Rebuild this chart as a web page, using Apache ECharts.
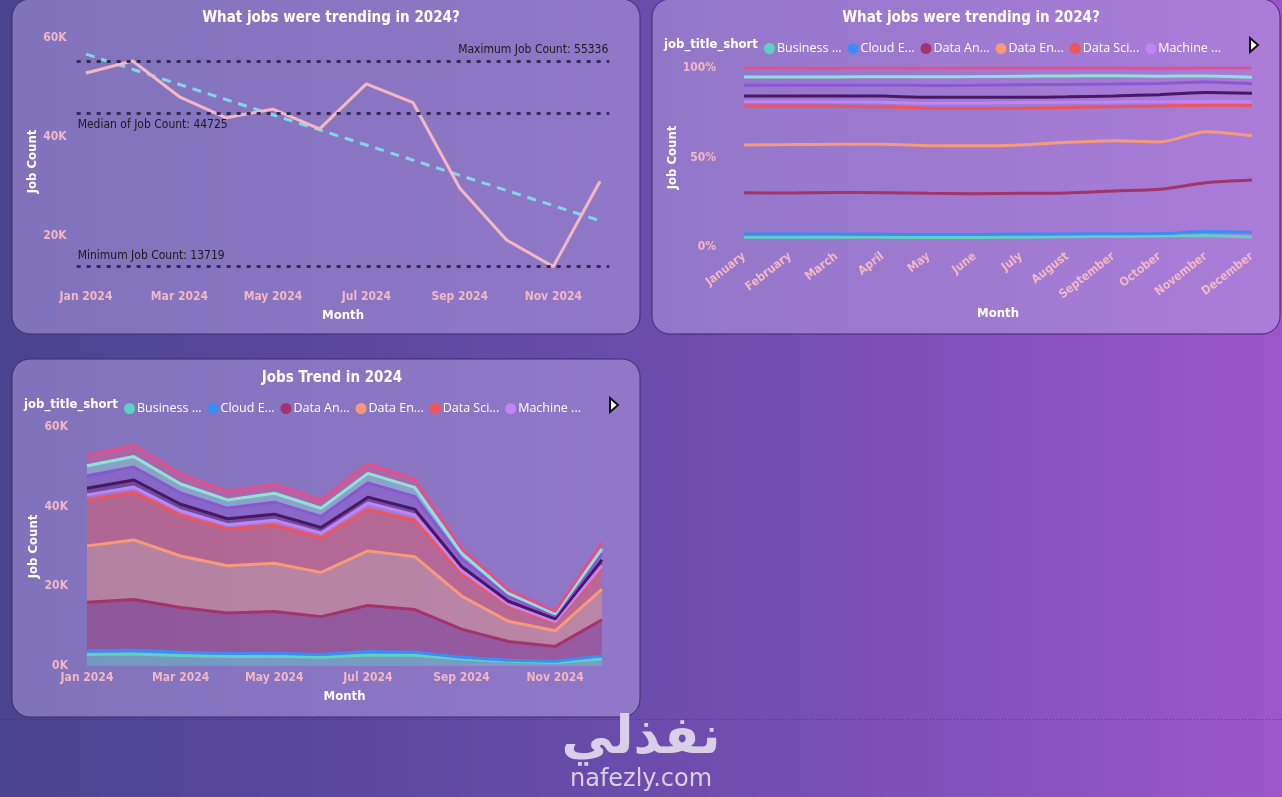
<!DOCTYPE html>
<html lang="en">
<head>
<meta charset="utf-8">
<script type="text/javascript" src="https://cdn.jsdelivr.net/npm/echarts@6/dist/echarts.min.js"></script>
</head>
<body style="margin:0; height:100%; overflow:hidden">
<div id="container" style="width:1282px; height:797px"></div>
<script type="text/javascript">
// months shown on the x axes
var months = ['January', 'February', 'March', 'April', 'May', 'June', 'July',
    'August', 'September', 'October', 'November', 'December'];

// job titles (stack order, bottom first) and the short legend labels
var jobTitles = ['Business Analyst', 'Cloud Engineer', 'Data Analyst', 'Data Engineer',
    'Data Scientist', 'Machine Learning Engineer', 'Senior Data Analyst',
    'Senior Data Engineer', 'Senior Data Scientist', 'Software Engineer'];
var legendShort = ['Business ...', 'Cloud E...', 'Data An...', 'Data En...', 'Data Sci...', 'Machine ...'];
var jobColors = ['#5fd0c3', '#3d8cf5', '#a3336b', '#f8997a', '#ee5559',
    '#c184f5', '#4a1766', '#8a57d0', '#8fe2d7', '#e0508a'];

// job counts per month, one array per job title
var businessAnalyst = [2860, 2988, 2646, 2368, 2417, 2205, 2789, 2673, 1746, 1165, 864, 1736];
var cloudEngineer = [950, 996, 818, 745, 775, 707, 862, 750, 444, 267, 316, 806];
var dataAnalyst = [12220, 12727, 11207, 10173, 10488, 9485, 11560, 10740, 7074, 4718, 3745, 9052];
var dataEngineer = [14124, 14941, 12939, 11883, 12130, 11107, 13689, 13273, 8318, 5062, 3910, 7688];
var dataScientist = [11532, 11953, 10197, 9209, 9530, 8694, 10394, 9099, 5624, 3839, 2030, 5208];
var mlEngineer = [1270, 1328, 1154, 1096, 1277, 1206, 1622, 1360, 770, 458, 274, 682];
var seniorAnalyst = [1693, 1771, 1635, 1491, 1505, 1373, 1470, 1454, 1006, 745, 700, 1457];
var seniorEngineer = [3121, 3265, 2838, 2675, 3010, 2787, 3600, 3236, 1954, 1203, 809, 1643];
var seniorScientist = [2486, 2601, 2261, 2061, 2234, 2038, 2383, 2251, 1391, 764, 466, 1116];
var softwareEngineer = [2644, 2766, 2405, 2149, 2234, 1998, 2331, 2064, 1273, 879, 605, 1612];

var jobCounts = [businessAnalyst, cloudEngineer, dataAnalyst, dataEngineer, dataScientist,
    mlEngineer, seniorAnalyst, seniorEngineer, seniorScientist, softwareEngineer];

// total per month (what the first chart plots)
var totals = months.map(function (m, i) {
    var s = 0;
    jobCounts.forEach(function (arr) { s += arr[i]; });
    return s;
});

// least squares trend line over the totals
var n = totals.length, sx = 0, sy = 0, sxy = 0, sxx = 0;
totals.forEach(function (v, i) { sx += i; sy += v; sxy += i * v; sxx += i * i; });
var slope = (n * sxy - sx * sy) / (n * sxx - sx * sx);
var icept = (sy - slope * sx) / n;

var condensed = '"DejaVu Sans Condensed", "Liberation Sans Narrow", sans-serif';
var pink = '#f4b7c4';

var dom = document.getElementById('container');
var myChart = echarts.init(dom);

function card(x, y, w, h) {
    return {
        type: 'rect', z: -5, silent: true,
        shape: { x: x, y: y, width: w, height: h, r: 18 },
        style: { fill: 'rgba(188,168,232,0.48)', stroke: '#3b2c6b', lineWidth: 1 }
    };
}
function arrow(x, y) {
    return {
        type: 'polygon', z: 10, silent: true,
        shape: { points: [[x, y], [x + 8, y + 7], [x, y + 14]] },
        style: { fill: '#ffffff', stroke: '#111111', lineWidth: 2 }
    };
}
function legendTitle(x, y) {
    return {
        type: 'text', z: 10, left: x, top: y,
        style: { text: 'job_title_short', fill: '#ffffff', font: 'bold 13px ' + condensed }
    };
}
function monthShort(i) {
    return months[i].slice(0, 3) + ' 2024';
}

var catLabel = { color: pink, fontWeight: 'bold', fontSize: 12, fontFamily: condensed };
var axisName = { color: '#ffffff', fontWeight: 'bold', fontSize: 13, fontFamily: condensed };
var noLine = { show: false, onZero: false };
var legendBase = {
    icon: 'circle', itemWidth: 11, itemHeight: 11, itemGap: 6,
    data: jobTitles.slice(0, 6),
    formatter: function (name) { return legendShort[jobTitles.indexOf(name)]; },
    textStyle: { color: '#ffffff', fontSize: 12.5, fontFamily: '"Open Sans", sans-serif', padding: [0, 0, 0, -3] }
};

var pctSeries = jobCounts.map(function (arr, k) {
    return {
        name: jobTitles[k], type: 'line', xAxisIndex: 1, yAxisIndex: 1, stack: 'pct',
        smooth: 0.25, symbol: 'none', color: jobColors[k],
        lineStyle: { width: 3 },
        data: arr.map(function (v, i) { return v / totals[i] * 100; })
    };
});
var areaSeries = jobCounts.map(function (arr, k) {
    return {
        name: jobTitles[k], type: 'line', xAxisIndex: 2, yAxisIndex: 2, stack: 'cnt',
        symbol: 'none', color: jobColors[k],
        lineStyle: { width: 3 },
        areaStyle: { opacity: 0.42 },
        data: arr
    };
});

var option = {
    animation: false,
    textStyle: { fontFamily: condensed },
    graphic: [
        {
            type: 'rect', z: -10, silent: true,
            shape: { x: 0, y: 0, width: 1282, height: 797 },
            style: {
                fill: new echarts.graphic.LinearGradient(0, 0, 1, 0, [
                    { offset: 0, color: '#4a4391' },
                    { offset: 0.5, color: '#6a4cac' },
                    { offset: 1, color: '#9c56ca' }
                ])
            }
        },
        card(12, -1, 628, 335),
        card(652, -1, 628, 335),
        card(12, 359, 628, 358),
        {
            type: 'line', z: -5, silent: true,
            shape: { x1: 0, y1: 719.5, x2: 1282, y2: 719.5 },
            style: { stroke: 'rgba(50,35,80,0.55)', lineWidth: 1, lineDash: [1, 2] }
        },
        legendTitle(664, 38),
        legendTitle(24, 398),
        arrow(1250, 38),
        arrow(610, 398),
        {
            type: 'text', z: 0, left: 'center', top: 713,
            style: { text: 'نفذلي', fill: '#d9cfe8', font: 'bold 52px "DejaVu Sans", sans-serif' }
        },
        {
            type: 'text', z: 0, left: 'center', top: 768,
            style: { text: 'nafezly.com', fill: '#d9cfe8', font: '24px "DejaVu Sans", sans-serif' }
        }
    ],
    title: [
        { text: 'What jobs were trending in 2024?', left: 326, top: 6, textAlign: 'center',
          textStyle: { color: '#fff', fontSize: 15, fontWeight: 'bold', fontFamily: condensed } },
        { text: 'What jobs were trending in 2024?', left: 966, top: 6, textAlign: 'center',
          textStyle: { color: '#fff', fontSize: 15, fontWeight: 'bold', fontFamily: condensed } },
        { text: 'Jobs Trend in 2024', left: 327, top: 366, textAlign: 'center',
          textStyle: { color: '#fff', fontSize: 15, fontWeight: 'bold', fontFamily: condensed } }
    ],
    legend: [
        Object.assign({ left: 759, top: 37 }, legendBase),
        Object.assign({ left: 119, top: 397 }, legendBase)
    ],
    grid: [
        { left: 76.65, top: 38, width: 532.7, height: 247, containLabel: false, outerBoundsMode: 'none' },
        { left: 744, top: 68, width: 508, height: 179, containLabel: false, outerBoundsMode: 'none' },
        { left: 87, top: 427, width: 515, height: 239, containLabel: false, outerBoundsMode: 'none' }
    ],
    xAxis: [
        {
            gridIndex: 0, type: 'value', min: -0.2, max: 11.2,
            splitLine: { show: false },
            axisLine: noLine, axisTick: { show: false },
            axisLabel: Object.assign({ margin: 6, customValues: [0, 2, 4, 6, 8, 10],
                formatter: function (v) { return monthShort(Math.round(v)); } }, catLabel),
            name: 'Month', nameLocation: 'middle', nameGap: 24, nameTextStyle: axisName
        },
        {
            gridIndex: 1, type: 'category', data: months, boundaryGap: false,
            axisLine: noLine, axisTick: { show: false },
            axisLabel: Object.assign({ interval: 0, rotate: 38, margin: 8 }, catLabel),
            name: 'Month', nameLocation: 'middle', nameGap: 60, nameTextStyle: axisName
        },
        {
            gridIndex: 2, type: 'category', data: months, boundaryGap: false,
            axisLine: noLine, axisTick: { show: false },
            axisLabel: Object.assign({ interval: 1, margin: 6,
                formatter: function (v, i) { return monthShort(i); } }, catLabel),
            name: 'Month', nameLocation: 'middle', nameGap: 24, nameTextStyle: axisName
        }
    ],
    yAxis: [
        {
            gridIndex: 0, type: 'value', min: 10000, max: 60000, interval: 10000,
            splitLine: { show: false }, axisLine: noLine, axisTick: { show: false },
            axisLabel: Object.assign({ margin: 10,
                formatter: function (v) { return v % 20000 === 0 ? (v / 1000) + 'K' : ''; } }, catLabel),
            name: 'Job Count', nameLocation: 'middle', nameGap: 37, nameTextStyle: axisName
        },
        {
            gridIndex: 1, type: 'value', min: 0, max: 100, interval: 50,
            splitLine: { show: false }, axisLine: noLine, axisTick: { show: false },
            axisLabel: Object.assign({ margin: 28, formatter: '{value}%' }, catLabel),
            name: 'Job Count', nameLocation: 'middle', nameGap: 63, nameTextStyle: axisName
        },
        {
            gridIndex: 2, type: 'value', min: 0, max: 60000, interval: 20000,
            splitLine: { show: false }, axisLine: noLine, axisTick: { show: false },
            axisLabel: Object.assign({ margin: 19,
                formatter: function (v) { return (v / 1000) + 'K'; } }, catLabel),
            name: 'Job Count', nameLocation: 'middle', nameGap: 47, nameTextStyle: axisName
        }
    ],
    series: [
        {
            name: 'Job Count', type: 'line', xAxisIndex: 0, yAxisIndex: 0,
            symbol: 'none', color: '#f5b8c3', lineStyle: { width: 3 }, z: 4,
            data: totals.map(function (v, i) { return [i, v]; }),
            markLine: {
                silent: true, symbol: 'none', precision: 0,
                lineStyle: { color: '#352b55', width: 3, type: [4, 6] },
                label: { color: '#1a1a1a', fontSize: 12, fontFamily: condensed, distance: [1, 5] },
                data: [
                    { type: 'max', valueDim: 'y', label: { position: 'insideEndTop', formatter: 'Maximum Job Count: {c}' } },
                    { type: 'median', valueDim: 'y', label: { position: 'insideStartBottom', formatter: 'Median of Job Count: {c}' } },
                    { type: 'min', valueDim: 'y', label: { position: 'insideStartTop', formatter: 'Minimum Job Count: {c}' } }
                ]
            }
        },
        {
            name: 'Trend', type: 'line', xAxisIndex: 0, yAxisIndex: 0,
            symbol: 'none', color: '#80d8e4', z: 3,
            lineStyle: { width: 3, type: [9, 7] },
            data: totals.map(function (v, i) { return [i, Math.round(icept + slope * i)]; })
        }
    ].concat(pctSeries, areaSeries)
};

myChart.setOption(option);
</script>
</body>
</html>
